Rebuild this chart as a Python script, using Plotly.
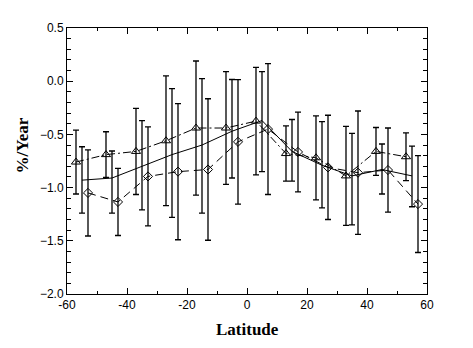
import plotly.graph_objects as go

# Latitude bin centres (degrees)
lat_bins = [-55, -45, -35, -25, -15, -5, 5, 15, 25, 35, 45, 55]

# Series drawn with open triangles (dash-dot line)
tri_val = [-0.76, -0.69, -0.66, -0.56, -0.44, -0.44, -0.375, -0.68, -0.72, -0.89, -0.66, -0.71]
tri_err = [0.30, 0.215, 0.405, 0.61, 0.63, 0.53, 0.505, 0.26, 0.395, 0.465, 0.225, 0.225]

# Series drawn as a plain solid line
sol_val = [-0.93, -0.91, -0.80, -0.69, -0.60, -0.47, -0.37, -0.66, -0.79, -0.89, -0.83, -0.89]
sol_err_plus = [0.314, 0.254, 0.43, 0.621, 0.625, 0.486, 0.46, 0.30, 0.41, 0.40, 0.24, 0.28]
sol_err_minus = [0.31, 0.33, 0.41, 0.59, 0.64, 0.44, 0.48, 0.28, 0.40, 0.46, 0.23, 0.29]

# Series drawn with open diamonds (dashed line)
dia_val = [-1.05, -1.135, -0.895, -0.85, -0.83, -0.57, -0.45, -0.665, -0.81, -0.86, -0.835, -1.155]
dia_err = [0.405, 0.315, 0.465, 0.64, 0.665, 0.585, 0.615, 0.375, 0.49, 0.58, 0.395, 0.455]

x_ticks = [-60, -40, -20, 0, 20, 40, 60]
y_ticks = [0.5, 0.0, -0.5, -1.0, -1.5, -2.0]

# small horizontal shift so the three error bars in a bin don't overlap
shift = 2.0

err_style = dict(color="black", thickness=1.3, width=3)

fig = go.Figure()

fig.add_trace(go.Scatter(
    x=[v - shift for v in lat_bins], y=tri_val,
    mode="lines+markers",
    line=dict(color="black", width=1, dash="8px,3px,2px,3px"),
    marker=dict(symbol="triangle-up-open", size=8, color="black", line=dict(width=1)),
    error_y=dict(type="data", array=tri_err, **err_style),
    showlegend=False,
))

fig.add_trace(go.Scatter(
    x=lat_bins, y=sol_val,
    mode="lines",
    line=dict(color="black", width=1),
    error_y=dict(type="data", array=sol_err_plus, arrayminus=sol_err_minus,
                 symmetric=False, **err_style),
    showlegend=False,
))

fig.add_trace(go.Scatter(
    x=[v + shift for v in lat_bins], y=dia_val,
    mode="lines+markers",
    line=dict(color="black", width=1, dash="8px,5px"),
    marker=dict(symbol="diamond-open", size=7, color="black", line=dict(width=1)),
    error_y=dict(type="data", array=dia_err, **err_style),
    showlegend=False,
))

tick_font = dict(family="Liberation Sans, Arial, sans-serif", size=12, color="black")

fig.update_xaxes(
    range=[-60, 60], tickvals=x_ticks, ticktext=[str(v) for v in x_ticks],
    ticks="inside", ticklen=6, tickwidth=1, tickcolor="black",
    minor=dict(dtick=10, ticks="inside", ticklen=3, tickcolor="black", showgrid=False),
    showline=True, linecolor="black", linewidth=1, mirror="allticks",
    showgrid=False, zeroline=False, tickfont=tick_font,
)
fig.update_yaxes(
    range=[-2.0, 0.5], tickvals=y_ticks, tickformat=".1f",
    ticks="inside", ticklen=6, tickwidth=1, tickcolor="black",
    minor=dict(dtick=0.1, ticks="inside", ticklen=4, tickcolor="black", showgrid=False),
    showline=True, linecolor="black", linewidth=1, mirror="allticks",
    showgrid=False, zeroline=False, tickfont=tick_font,
)

title_font = dict(family="Liberation Serif, Times New Roman, serif", size=17, color="black")

fig.add_annotation(
    text="<b>Latitude</b>", xref="paper", yref="paper", x=0.5, y=-0.135,
    xanchor="center", yanchor="middle", showarrow=False, font=title_font,
)
fig.add_annotation(
    text="<b>%/Year</b>", xref="paper", yref="paper", x=-0.124, y=0.56,
    xanchor="center", yanchor="middle", textangle=-90, showarrow=False, font=title_font,
)

fig.update_layout(
    width=473, height=348,
    margin=dict(l=67, r=46, t=28, b=54),
    plot_bgcolor="white", paper_bgcolor="white",
)

fig.write_html("out.html")
